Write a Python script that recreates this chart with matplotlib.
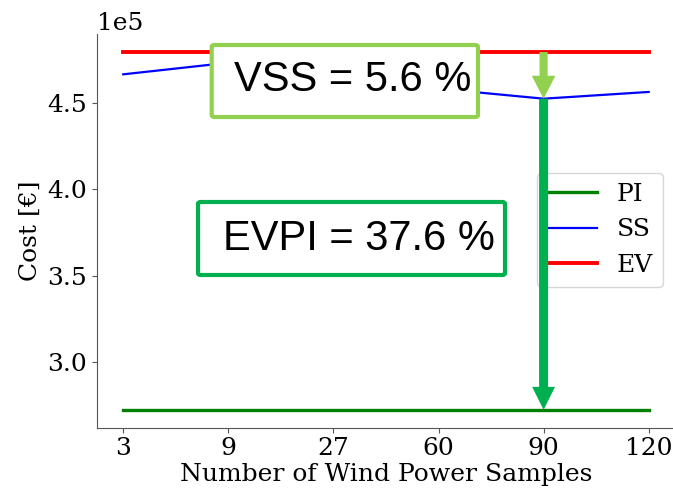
import matplotlib.pyplot as plt
from matplotlib.patches import FancyBboxPatch

plt.rcParams["font.family"] = "serif"
plt.rcParams["font.serif"] = ["DejaVu Serif"]

# data (cost in euro)
samples = ["3", "9", "27", "60", "90", "120"]
cost_pi = [272400] * 6
cost_ss = [466600, 473300, 465000, 458300, 452500, 456400]
cost_ev = [479500] * 6

vss_label = "VSS = 5.6 %"
evpi_label = "EVPI = 37.6 %"


def main() -> None:
    fig = plt.figure(figsize=(6.73, 4.95), dpi=100)
    ax = fig.add_axes([0.1441, 0.136, 0.8588, 0.795])

    ax.plot(samples, cost_pi, color="green", lw=2.4, label="PI")
    ax.plot(samples, cost_ss, color="blue", lw=1.6, label="SS")
    ax.plot(samples, cost_ev, color="red", lw=2.8, label="EV")

    ax.ticklabel_format(style="sci", axis="y", scilimits=(0, 0))
    ax.spines["top"].set_visible(False)
    ax.spines["right"].set_visible(False)
    for s in ("left", "bottom"):
        ax.spines[s].set_color("#555555")
    ax.tick_params(labelsize=18, colors="#555555", labelcolor="black")
    ax.yaxis.get_offset_text().set_fontsize(18)
    ax.set_xlabel("Number of Wind Power Samples", fontsize=18, labelpad=2)
    ax.set_ylabel("Cost [€]", fontsize=18)

    ax.legend(fontsize=18, loc="upper right",
              bbox_to_anchor=(663 / 673, 1 - 173 / 495),
              bbox_transform=fig.transFigure, borderaxespad=0)

    # arrows at 90 samples
    i = samples.index("90")
    ax.annotate("", xy=(samples[i], cost_ss[i]), xytext=(samples[i], cost_ev[i]),
                arrowprops=dict(facecolor="#92D050", edgecolor="none", width=5.8,
                                headwidth=17, headlength=16.5, shrink=0),
                zorder=6)
    ax.annotate("", xy=(samples[i], cost_pi[i]), xytext=(samples[i], cost_ss[i]),
                arrowprops=dict(facecolor="#00B050", edgecolor="none", width=6.5,
                                headwidth=16.5, headlength=16.5, shrink=0),
                zorder=6)

    # annotation boxes
    boxes = [
        ((211.7, 45, 478, 117), "#92D050", vss_label, (352.5, 80)),
        ((198, 202, 505, 275), "#00B050", evpi_label, (358.5, 239)),
    ]
    W, H = 673, 495
    for (x0, y0, x1, y1), col, label, (tx, ty) in boxes:
        box = FancyBboxPatch((x0 / W, 1 - y1 / H), (x1 - x0) / W, (y1 - y0) / H,
                             boxstyle="round,pad=0,rounding_size=0.004",
                             transform=fig.transFigure, facecolor="white",
                             edgecolor=col, lw=3, zorder=7)
        fig.add_artist(box)
        fig.text(tx / W, 1 - ty / H, label, fontsize=30, family="Liberation Sans",
                 ha="center", va="center", zorder=8)

    fig.savefig("out.png", dpi=100)
    plt.close(fig)


if __name__ == "__main__":
    main()
